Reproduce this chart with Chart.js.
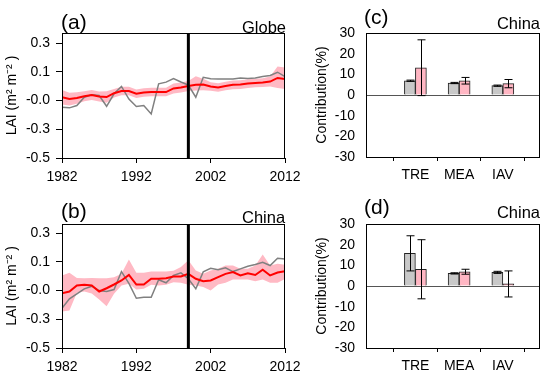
<!DOCTYPE html>
<html>
<head>
<meta charset="utf-8">
<script src="https://cdn.jsdelivr.net/npm/chart.js@4"></script>
<style>
  body { margin: 0; background: #fff; }
  #wrap { position: relative; width: 550px; height: 379px; overflow: hidden; font-family: "Liberation Sans", Arial, sans-serif; }
  canvas { position: absolute; }
  .lbl { position: absolute; line-height: 1; white-space: nowrap; color: #000; }
</style>
</head>
<body>
<div id="wrap">
  <canvas id="chartA" width="310" height="190" style="left:0;top:0"></canvas>
  <canvas id="chartB" width="310" height="189" style="left:0;top:190px"></canvas>
  <canvas id="chartC" width="260" height="190" style="left:290px;top:0"></canvas>
  <canvas id="chartD" width="260" height="189" style="left:290px;top:190px"></canvas>

  <div class="lbl" style="left:61px;top:11px;font-size:21px">(a)</div>
  <div class="lbl" style="left:242px;top:19px;font-size:16.5px">Globe</div>
  <div class="lbl" style="left:61px;top:200px;font-size:21px">(b)</div>
  <div class="lbl" style="left:242px;top:209px;font-size:16.5px">China</div>
  <div class="lbl" style="left:364px;top:6px;font-size:21px">(c)</div>
  <div class="lbl" style="right:10px;top:15px;font-size:16.5px">China</div>
  <div class="lbl" style="left:364px;top:196px;font-size:21px">(d)</div>
  <div class="lbl" style="right:10px;top:204px;font-size:16.5px">China</div>
</div>
<script>
// ---- data ----
const years = [1982, 1983, 1984, 1985, 1986, 1987, 1988, 1989, 1990, 1991,
  1992, 1993, 1994, 1995, 1996, 1997, 1998, 1999, 2000, 2001,
  2002, 2003, 2004, 2005, 2006, 2007, 2008, 2009, 2010, 2011, 2012];
const breakYear = 1999;
const yearTicks = [1982, 1992, 2002, 2012];
const laiTickValues = [-0.5, -0.3, -0.1, 0.1, 0.3];
const laiTickLabels = ['-0.5', '-0.3', '-0.0', '0.1', '0.3'];

// (a) Globe
const globeObs = [-0.147, -0.151, -0.135, -0.077, -0.06, -0.065, -0.14, -0.053, -0.002, -0.09,
  -0.142, -0.135, -0.193, 0.016, 0.028, 0.053, 0.029, 0.008, -0.077, 0.062,
  0.051, 0.05, 0.05, 0.05, 0.057, 0.053, 0.057, 0.067, 0.074, 0.097, 0.067];
const globeFit = [-0.077, -0.09, -0.083, -0.07, -0.062, -0.072, -0.076, -0.049, -0.034, -0.034,
  -0.053, -0.044, -0.041, -0.041, -0.041, -0.016, -0.009, 0.001, 0.009, 0.011,
  -0.002, -0.009, 0.001, 0.009, 0.011, 0.018, 0.022, 0.025, 0.032, 0.057, 0.05];
const globeHigh = [-0.027, -0.045, -0.043, -0.035, -0.027, -0.037, -0.036, -0.019, -0.004, -0.004,
  -0.023, -0.014, -0.011, -0.011, -0.011, 0.019, 0.026, 0.036, 0.069, 0.051,
  0.028, 0.021, 0.031, 0.039, 0.041, 0.048, 0.052, 0.055, 0.067, 0.137, 0.13];
const globeLow = [-0.127, -0.135, -0.123, -0.105, -0.097, -0.107, -0.116, -0.079, -0.064, -0.064,
  -0.083, -0.074, -0.071, -0.071, -0.071, -0.051, -0.044, -0.034, -0.031, -0.029,
  -0.032, -0.039, -0.029, -0.021, -0.019, -0.012, -0.008, -0.005, -0.003, -0.013, -0.02];

// (b) China
const chinaObs = [-0.223, -0.158, -0.123, -0.088, -0.07, -0.1, -0.107, -0.093, 0.032, -0.05,
  -0.154, -0.147, -0.147, -0.025, -0.046, 0.005, 0.023, -0.018, -0.088, 0.03,
  0.055, 0.044, 0.058, 0.032, 0.051, 0.069, 0.081, 0.097, 0.074, 0.125, 0.12];
const chinaFit = [-0.119, -0.107, -0.065, -0.06, -0.065, -0.107, -0.084, -0.058, -0.03, 0.009,
  -0.058, -0.058, -0.018, -0.018, -0.014, -0.002, -0.002, 0.016, -0.018, -0.035,
  -0.03, -0.007, 0.016, 0.028, 0.005, 0.02, 0.008, 0.045, 0.005, 0.025, 0.035];
const chinaHigh = [0.005, 0.023, -0.012, -0.014, -0.012, -0.014, -0.014, -0.007, 0.016, 0.116,
  0.023, 0.023, 0.032, 0.032, 0.032, 0.037, 0.063, 0.11, 0.039, 0.016,
  0.04, 0.051, 0.074, 0.074, 0.051, 0.051, 0.074, 0.15, 0.074, 0.086, 0.08];
const chinaLow = [-0.246, -0.239, -0.116, -0.107, -0.121, -0.163, -0.209, -0.123, -0.065, -0.053,
  -0.093, -0.088, -0.06, -0.065, -0.06, -0.042, -0.046, -0.06, -0.065, -0.076,
  -0.099, -0.058, -0.046, -0.023, -0.023, -0.023, -0.035, -0.023, -0.046, -0.046, -0.02];

// (c), (d) contributions
const barCategories = ['TRE', 'MEA', 'IAV'];
const cGray = [6.9, 5.8, 4.5];
const cGrayErr = [0.3, 0.3, 0.3];
const cPink = [13.2, 6.9, 5.5];
const cPinkErr = [13.5, 1.6, 2.0];
const dGray = [15.8, 6.1, 6.6];
const dGrayErr = [8.5, 0.3, 0.5];
const dPink = [8.1, 6.9, 1.0];
const dPinkErr = [14.3, 1.2, 6.3];
const contribTicks = [-30, -20, -10, 0, 10, 20, 30];

// ---- styling ----
const FONT = { family: '"Liberation Sans", Arial, sans-serif', size: 14 };
Chart.defaults.color = '#000';
Chart.defaults.font = FONT;

const boxPlugin = {
  id: 'box',
  afterDraw(chart) {
    const { ctx, chartArea: a } = chart;
    ctx.save();
    ctx.strokeStyle = '#000';
    ctx.lineWidth = 1;
    ctx.strokeRect(Math.round(a.left) + 0.5, Math.round(a.top) + 0.5,
      Math.round(a.right - a.left) - 1, Math.round(a.bottom - a.top));
    ctx.restore();
  }
};

const breakLine = {
  id: 'breakLine',
  afterDatasetsDraw(chart) {
    const { ctx, chartArea: a, scales } = chart;
    const x = scales.x.getPixelForValue(breakYear);
    ctx.save();
    ctx.strokeStyle = '#000';
    ctx.lineWidth = 3;
    ctx.beginPath();
    ctx.moveTo(x, a.top);
    ctx.lineTo(x, a.bottom);
    ctx.stroke();
    ctx.restore();
  }
};

const errorBars = {
  id: 'errorBars',
  afterDatasetsDraw(chart) {
    const { ctx, scales } = chart;
    ctx.save();
    ctx.strokeStyle = '#000';
    ctx.lineWidth = 1;
    chart.data.datasets.forEach((ds, i) => {
      if (!ds.errors) return;
      chart.getDatasetMeta(i).data.forEach((bar, j) => {
        const v = ds.data[j].y, e = ds.errors[j];
        const x = Math.round(bar.x) + 0.5;
        const y1 = scales.y.getPixelForValue(v + e);
        const y2 = scales.y.getPixelForValue(v - e);
        ctx.beginPath();
        ctx.moveTo(x, y1); ctx.lineTo(x, y2);
        ctx.moveTo(x - 4, y1); ctx.lineTo(x + 4, y1);
        ctx.moveTo(x - 4, y2); ctx.lineTo(x + 4, y2);
        ctx.stroke();
      });
    });
    ctx.restore();
  }
};

// keep label overflow from shrinking the plot area
function fixX(h) {
  return s => { s.height = h; s.paddingLeft = 0; s.paddingRight = 0; };
}

function laiChart(id, obs, fit, high, low, yMax, padTop, xAxisH) {
  const pts = arr => arr.map((v, i) => ({ x: years[i], y: v }));
  return new Chart(document.getElementById(id), {
    type: 'line',
    data: {
      datasets: [
        { data: pts(fit), borderColor: '#ff0000', borderWidth: 2, pointRadius: 0, order: 0, fill: false },
        { data: pts(obs), borderColor: '#808080', borderWidth: 1.5, pointRadius: 0, order: 1, fill: false },
        { data: pts(low), borderColor: 'rgba(0,0,0,0)', borderWidth: 0, pointRadius: 0, order: 3, fill: false },
        { data: pts(high), borderColor: 'rgba(0,0,0,0)', borderWidth: 0, pointRadius: 0, order: 2,
          fill: '-1', backgroundColor: '#ffb9c4' }
      ]
    },
    options: {
      responsive: false,
      animation: false,
      layout: { padding: { top: padTop, right: 25, left: 0, bottom: 0 } },
      plugins: { legend: { display: false }, tooltip: { enabled: false } },
      scales: {
        x: {
          type: 'linear', min: 1982, max: 2012,
          afterBuildTicks: s => { s.ticks = yearTicks.map(v => ({ value: v })); },
          afterFit: fixX(xAxisH),
          ticks: { callback: v => String(v), padding: 6, maxRotation: 0 },
          grid: { drawOnChartArea: false, tickLength: 5, color: '#000' },
          border: { display: false }
        },
        y: {
          min: -0.5, max: yMax,
          afterBuildTicks: s => { s.ticks = laiTickValues.map(v => ({ value: v })); },
          afterFit: s => { s.width = 62; },
          ticks: { callback: (v, i) => laiTickLabels[i], padding: 6 },
          grid: { drawOnChartArea: false, tickLength: 6, color: '#000' },
          border: { display: false },
          title: { display: true, text: 'LAI (m\u00b2 m\u207b\u00b2 )', padding: { top: 4, bottom: 0 } }
        }
      }
    },
    plugins: [boxPlugin, breakLine]
  });
}

function contribChart(id, gray, grayErr, pink, pinkErr, padTop, xAxisH) {
  const pts = arr => arr.map((v, i) => ({ x: i + 1, y: v }));
  return new Chart(document.getElementById(id), {
    type: 'bar',
    data: {
      datasets: [
        { data: pts(gray), errors: grayErr, backgroundColor: '#c8c8c8', borderColor: '#222', borderWidth: 1, barThickness: 11 },
        { data: pts(pink), errors: pinkErr, backgroundColor: '#ffb6c3', borderColor: '#222', borderWidth: 1, barThickness: 11 }
      ]
    },
    options: {
      responsive: false,
      animation: false,
      layout: { padding: { top: padTop, right: 10, left: 20, bottom: 0 } },
      plugins: { legend: { display: false }, tooltip: { enabled: false } },
      scales: {
        x: {
          type: 'linear', min: -0.13, max: 3.85, offset: false,
          afterBuildTicks: s => { s.ticks = barCategories.map((c, i) => ({ value: i + 1 })); },
          afterFit: fixX(xAxisH),
          ticks: { callback: (v, i) => barCategories[i], padding: 6, maxRotation: 0 },
          grid: { drawOnChartArea: false, tickLength: 4, color: '#000' },
          border: { display: false }
        },
        y: {
          min: -30, max: 30,
          afterBuildTicks: s => { s.ticks = contribTicks.map(v => ({ value: v })); },
          afterFit: s => { s.width = 56; },
          ticks: { callback: v => String(v), padding: 11 },
          grid: {
            drawTicks: false,
            color: c => (c.tick && c.tick.value === 0 ? '#555' : 'rgba(0,0,0,0)')
          },
          border: { display: false },
          title: { display: true, text: 'Contribution(%)', padding: { top: 4, bottom: 0 } }
        }
      }
    },
    plugins: [boxPlugin, errorBars]
  });
}

laiChart('chartA', globeObs, globeFit, globeHigh, globeLow, 0.37, 33, 32);
laiChart('chartB', chinaObs, chinaFit, chinaHigh, chinaLow, 0.363, 34, 31);
contribChart('chartC', cGray, cGrayErr, cPink, cPinkErr, 33, 33);
contribChart('chartD', dGray, dGrayErr, dPink, dPinkErr, 34, 31);
</script>
</body>
</html>
